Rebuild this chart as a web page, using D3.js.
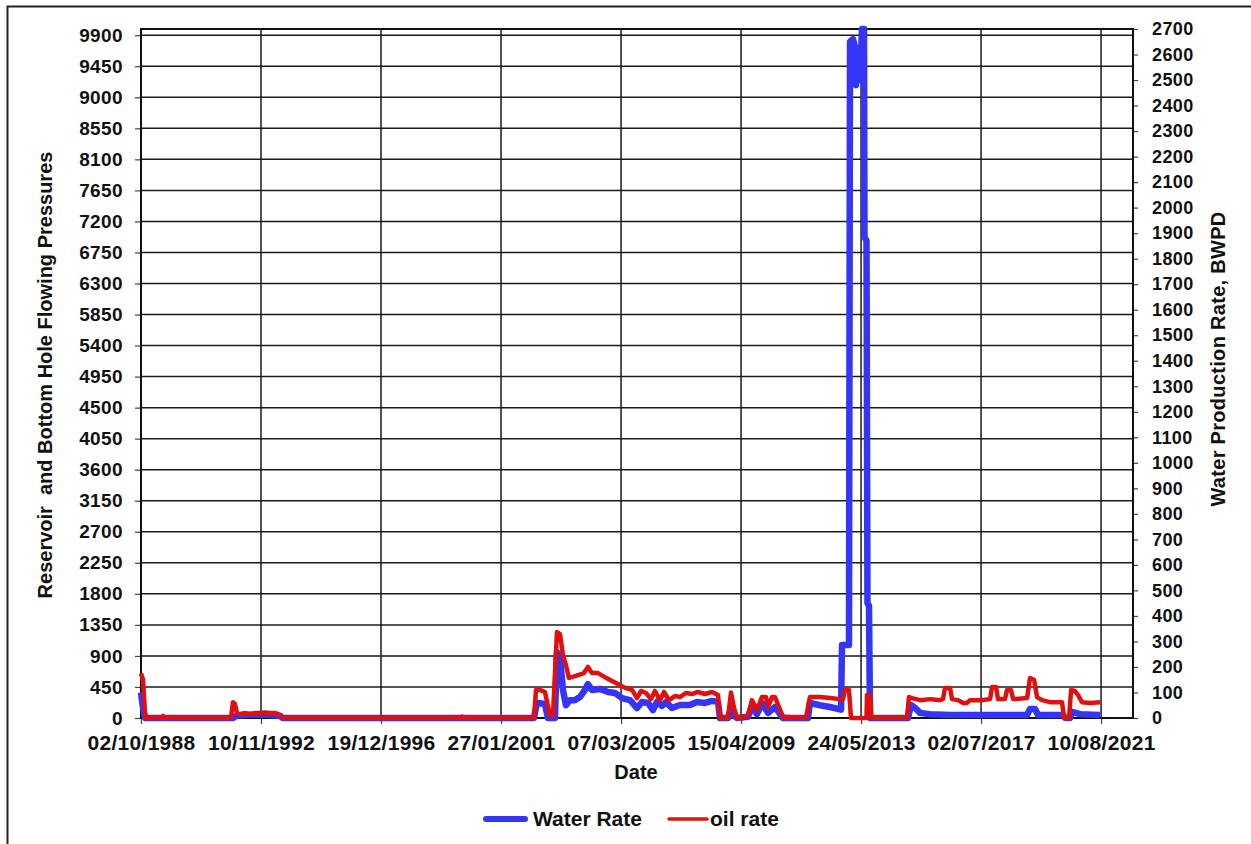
<!DOCTYPE html>
<html>
<head>
<meta charset="utf-8">
<script src="https://cdn.jsdelivr.net/npm/d3@7"></script>
<style>
  html, body { margin: 0; padding: 0; background: #fff; }
  svg { display: block; }
  text { font-family: "Liberation Sans", Arial, sans-serif; font-weight: bold; fill: #111; }
</style>
</head>
<body>
<svg id="chart" width="1251" height="844"></svg>
<script>
// Production history: water and oil rates by date
const waterDates = [
  "1988-10-02","1988-10-27","1988-11-21","1991-11-25","1992-01-14","1992-04-23","1992-10-28","1993-03-02","1993-07-05","1993-08-11",
  "2002-03-15","2002-04-21","2002-07-30","2002-09-06","2002-12-02","2002-12-27","2003-02-03","2003-03-12","2003-04-18","2003-06-07",
  "2003-08-08","2003-10-10","2003-12-12","2004-01-18","2004-03-08","2004-06-17","2004-09-25","2004-12-21","2005-03-19","2005-06-27",
  "2005-09-23","2005-11-24","2006-02-07","2006-04-10","2006-05-30","2006-07-31","2006-09-20","2006-12-03","2007-03-13","2007-07-16",
  "2007-10-12","2008-01-20","2008-04-17","2008-07-01","2008-07-26","2008-11-03","2008-12-10","2009-01-17","2009-02-23","2009-07-10",
  "2009-08-29","2009-10-31","2010-01-01","2010-03-18","2010-06-13","2010-09-21","2011-07-30","2011-08-24","2011-12-27","2012-05-01",
  "2012-09-16","2012-09-28","2012-12-24","2013-01-06","2013-02-12","2013-03-09","2013-03-22","2013-04-16","2013-05-11","2013-06-05",
  "2013-06-30","2013-07-06","2013-07-31","2013-08-12","2013-08-31","2013-09-13","2015-01-01","2015-02-07","2015-03-29","2015-05-31",
  "2015-10-03","2016-06-09","2017-06-19","2018-07-11","2019-01-28","2019-03-06","2019-05-08","2019-06-14","2020-04-22","2020-05-17",
  "2020-07-18","2020-08-12","2020-11-20","2021-07-28"
];
const waterRate = [
  100, 40, 0, 0, 10, 12, 14, 12, 8, 0,
  0, 60, 55, 0, 0, 258, 240, 110, 50, 70,
  70, 82, 110, 133, 110, 114, 102, 98, 78, 70,
  39, 63, 59, 31, 63, 47, 63, 39, 51, 51,
  63, 59, 67, 63, 0, 0, 40, 10, 0, 5,
  43, 15, 59, 20, 43, 0, 0, 59, 50, 43,
  33, 286, 286, 2650, 2660, 2630, 2480, 2600, 2500, 2700,
  2700, 1885, 1870, 450, 440, 0, 0, 51, 40, 20,
  15, 12, 12, 12, 12, 35, 35, 12, 12, 0,
  0, 24, 15, 12
];

const oilDates = [
  "1988-10-02","1988-10-27","1988-11-21","1988-12-03","1989-06-08","1989-07-03","1989-07-28","1991-10-31","1991-11-25","1991-12-20",
  "1992-01-14","1992-02-20","1992-04-23","1992-06-25","1992-08-27","1992-10-28","1992-12-30","1993-03-02","1993-05-04","1993-07-05",
  "1993-08-11","1999-09-01","1999-09-26","1999-10-21","2002-03-15","2002-04-09","2002-05-28","2002-07-30","2002-10-01","2002-11-07",
  "2002-12-27","2003-02-03","2003-03-12","2003-04-18","2003-05-26","2003-07-02","2003-09-15","2003-11-29","2004-01-18","2004-03-08",
  "2004-05-23","2004-08-19","2004-11-14","2005-01-28","2005-04-26","2005-07-22","2005-09-23","2005-11-12","2006-01-13","2006-03-16",
  "2006-05-05","2006-07-06","2006-08-26","2006-10-27","2007-01-10","2007-03-13","2007-05-27","2007-08-10","2007-10-24","2008-01-20",
  "2008-04-17","2008-07-01","2008-07-26","2008-11-03","2008-12-10","2009-01-17","2009-02-23","2009-07-10","2009-08-29","2009-10-31",
  "2010-01-01","2010-02-21","2010-03-18","2010-05-07","2010-06-13","2010-09-21","2011-07-05","2011-08-24","2011-12-27","2012-05-01",
  "2012-09-03","2012-10-10","2012-11-04","2012-12-24","2013-01-18","2013-07-31","2013-08-06","2013-09-13","2013-10-01","2014-12-18",
  "2015-01-13","2015-02-20","2015-05-31","2015-10-03","2016-02-05","2016-03-13","2016-04-07","2016-06-09","2016-07-04","2016-09-17",
  "2016-11-18","2017-01-08","2017-02-14","2017-06-19","2017-10-22","2017-11-16","2018-01-05","2018-01-30","2018-04-27","2018-05-22",
  "2018-07-11","2018-08-06","2019-01-28","2019-03-06","2019-04-25","2019-06-02","2019-08-03","2019-11-10","2020-04-09","2020-05-05",
  "2020-07-06","2020-07-31","2020-09-19","2020-10-26","2020-12-15","2021-03-26","2021-07-28"
];
const oilRate = [
  175, 150, 20, 0, 0, 8, 0, 0, 62, 55,
  20, 15, 20, 15, 20, 20, 22, 20, 20, 12,
  0, 0, 6, 0, 0, 110, 110, 102, 10, 10,
  337, 329, 247, 208, 157, 160, 168, 176, 200, 176,
  176, 160, 145, 133, 118, 110, 78, 106, 98, 74,
  106, 70, 102, 70, 86, 82, 98, 94, 102, 94,
  102, 90, 0, 0, 100, 40, 0, 10, 70, 31,
  82, 82, 43, 82, 82, 5, 0, 82, 82, 78,
  74, 74, 110, 110, 0, 0, 90, 90, 0, 0,
  82, 78, 70, 74, 70, 74, 118, 118, 74, 70,
  59, 59, 70, 70, 74, 121, 121, 74, 74, 110,
  110, 74, 78, 157, 150, 82, 70, 62, 62, 0,
  0, 110, 105, 90, 62, 59, 62
];

// Axis ticks
const dateTicks = ["1988-10-02","1992-11-10","1996-12-19","2001-01-27","2005-03-07","2009-04-15","2013-05-24","2017-07-02","2021-08-10"];
const pressureTicks = [0,450,900,1350,1800,2250,2700,3150,3600,4050,4500,4950,5400,5850,6300,6750,7200,7650,8100,8550,9000,9450,9900];
const rateTicks = [0,100,200,300,400,500,600,700,800,900,1000,1100,1200,1300,1400,1500,1600,1700,1800,1900,2000,2100,2200,2300,2400,2500,2600,2700];
const dateStart = "1988-10-02", dateEnd = "2022-09-13";
const pressureMax = 9990, rateMax = 2700;

const seriesNames = ["Water Rate", "oil rate"];
const seriesColors = ["#3535f5", "#e01010"];

const parse = d3.timeParse("%Y-%m-%d");
const fmt = d3.timeFormat("%d/%m/%Y");

const svg = d3.select("#chart");
const plot = { left: 141, right: 1133, top: 29, bottom: 718 };

svg.append("rect").attr("width", 1251).attr("height", 844).attr("fill", "#fff");
// Outer frame
svg.append("rect").attr("x", 7.5).attr("y", 6.5).attr("width", 1300).attr("height", 900)
  .attr("fill", "none").attr("stroke", "#222").attr("stroke-width", 2);

const x = d3.scaleTime().domain([parse(dateStart), parse(dateEnd)]).range([plot.left, plot.right]);
const yP = d3.scaleLinear().domain([0, pressureMax]).range([plot.bottom, plot.top]);
const yR = d3.scaleLinear().domain([0, rateMax]).range([plot.bottom, plot.top]);

// Grid
const grid = svg.append("g").attr("stroke", "#1a1a1a").attr("stroke-width", 1.5);
pressureTicks.forEach(v => {
  grid.append("line").attr("x1", plot.left).attr("x2", plot.right)
    .attr("y1", yP(v)).attr("y2", yP(v));
});
dateTicks.map(parse).forEach(d => {
  grid.append("line").attr("x1", x(d)).attr("x2", x(d))
    .attr("y1", plot.top).attr("y2", plot.bottom);
});

// Axes
const axisLeft = d3.axisLeft(yP).tickValues(pressureTicks).tickSize(6).tickPadding(12).tickFormat(d3.format("d"));
const axisRight = d3.axisRight(yR).tickValues(rateTicks).tickSize(5).tickPadding(14).tickFormat(d3.format("d"));
const axisBottom = d3.axisBottom(x).tickValues(dateTicks.map(parse)).tickSize(6).tickPadding(11).tickFormat(fmt);

function styleAxis(g, size, spacing) {
  g.select(".domain").remove();
  g.selectAll(".tick line").attr("stroke", "#444").attr("stroke-width", 1.2);
  g.selectAll(".tick text").attr("font-size", size).attr("font-family", "Liberation Sans, Arial, sans-serif")
    .attr("font-weight", "bold").attr("fill", "#111").attr("letter-spacing", spacing);
}
svg.append("g").attr("transform", `translate(${plot.left},0)`).call(axisLeft).call(g => styleAxis(g, 19, 0.4));
svg.append("g").attr("transform", `translate(${plot.right},0)`).call(axisRight).call(g => styleAxis(g, 18, 0.4));
svg.append("g").attr("transform", `translate(0,${plot.bottom})`).call(axisBottom).call(g => styleAxis(g, 21, 0.3));

// Plot border
svg.append("rect").attr("x", plot.left).attr("y", plot.top)
  .attr("width", plot.right - plot.left).attr("height", plot.bottom - plot.top)
  .attr("fill", "none").attr("stroke", "#111").attr("stroke-width", 2);

// Series
const line = d3.line().x(d => x(d.date)).y(d => yR(d.value));
const water = waterDates.map((d, i) => ({ date: parse(d), value: waterRate[i] }));
const oil = oilDates.map((d, i) => ({ date: parse(d), value: oilRate[i] }));

svg.append("path").datum(water).attr("d", line).attr("fill", "none")
  .attr("stroke", seriesColors[0]).attr("stroke-width", 6.5).attr("stroke-linejoin", "round");
svg.append("path").datum(oil).attr("d", line).attr("fill", "none")
  .attr("stroke", seriesColors[1]).attr("stroke-width", 4.5).attr("stroke-linejoin", "round");

// Axis titles
svg.append("text").attr("transform", "translate(52,375) rotate(-90)").attr("text-anchor", "middle")
  .attr("font-size", 20).text("Reservoir  and Bottom Hole Flowing Pressures").style("white-space", "pre");
svg.append("text").attr("transform", "translate(1225,359) rotate(-90)").attr("text-anchor", "middle")
  .attr("font-size", 20).attr("letter-spacing", 0.3).text("Water Production Rate, BWPD");
svg.append("text").attr("x", 636).attr("y", 779).attr("text-anchor", "middle")
  .attr("font-size", 20).text("Date");

// Legend
const legend = [
  { x1: 486, x2: 525, tx: 533, w: 6 },
  { x1: 669, x2: 707, tx: 710, w: 3.5 }
];
legend.forEach((l, i) => {
  svg.append("line").attr("x1", l.x1).attr("x2", l.x2).attr("y1", 819).attr("y2", 819)
    .attr("stroke", seriesColors[i]).attr("stroke-width", l.w).attr("stroke-linecap", "round");
  svg.append("text").attr("x", l.tx).attr("y", 826).attr("font-size", 21).text(seriesNames[i]);
});
</script>
</body>
</html>
